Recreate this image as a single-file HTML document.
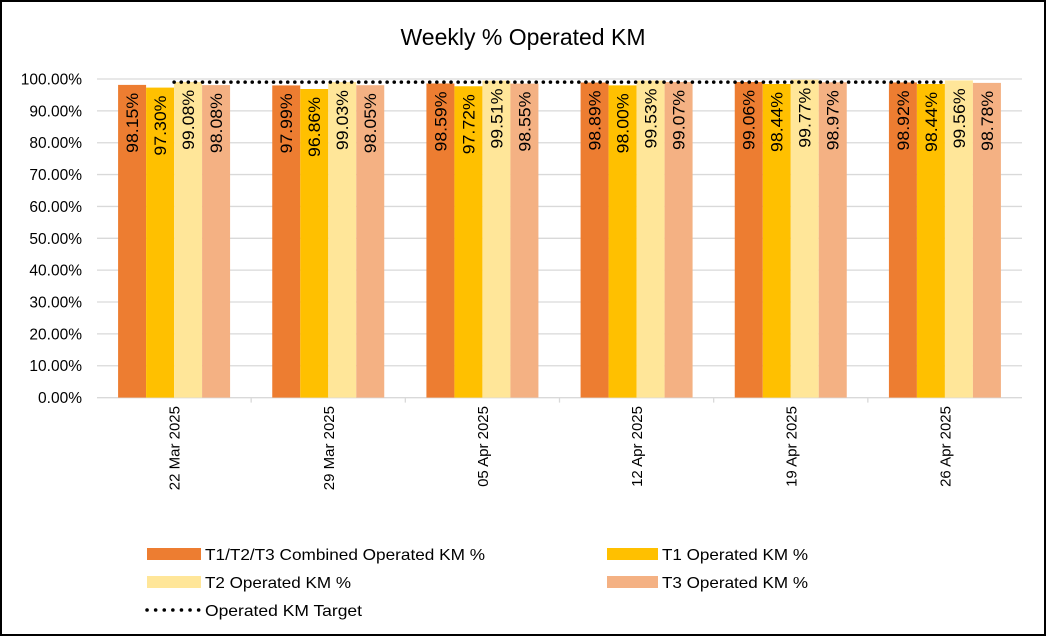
<!DOCTYPE html>
<html><head><meta charset="utf-8"><style>
body{margin:0;background:#fff;}
#c{position:relative;width:1046px;height:636px;box-sizing:border-box;border:2px solid #000;background:#fff;overflow:hidden;}
svg text{font-family:"Liberation Sans",sans-serif;}
</style></head><body>
<div id="c">
<svg id="s" width="1042" height="632" viewBox="2 2 1042 632" xmlns="http://www.w3.org/2000/svg">
<text x="523" y="45" text-anchor="middle" font-size="23" fill="#000">Weekly % Operated KM</text>
<g id="grid"></g>
<g id="yticks"></g>
<g id="bars"></g>
<g id="xlabels"></g>
<g id="target"></g>
<g>
 <rect x="147" y="548" width="54" height="12" fill="#ED7D31"/>
 <text x="205" y="560" font-size="16" textLength="280" lengthAdjust="spacingAndGlyphs">T1/T2/T3 Combined Operated KM %</text>
 <rect x="607" y="548" width="51" height="12" fill="#FFC000"/>
 <text x="662" y="560" font-size="16" textLength="146" lengthAdjust="spacingAndGlyphs">T1 Operated KM %</text>
 <rect x="147" y="576" width="54" height="12" fill="#FFE699"/>
 <text x="205" y="588" font-size="16" textLength="146" lengthAdjust="spacingAndGlyphs">T2 Operated KM %</text>
 <rect x="607" y="576" width="51" height="12" fill="#F4B183"/>
 <text x="662" y="588" font-size="16" textLength="146" lengthAdjust="spacingAndGlyphs">T3 Operated KM %</text>
 <line x1="147" y1="610" x2="200" y2="610" stroke="#000" stroke-width="3.5" stroke-dasharray="0.1 8.5" stroke-linecap="round"/>
 <text x="205" y="616" font-size="16" textLength="157" lengthAdjust="spacingAndGlyphs">Operated KM Target</text>
</g>
</svg>
</div>
<script>
const categories=["22 Mar 2025","29 Mar 2025","05 Apr 2025","12 Apr 2025","19 Apr 2025","26 Apr 2025"];
const combined=[98.15,97.99,98.59,98.89,99.06,98.92];
const t1=[97.30,96.86,97.72,98.00,98.44,98.44];
const t2=[99.08,99.03,99.51,99.53,99.77,99.56];
const t3=[98.08,98.05,98.55,99.07,98.97,98.78];
const target=[99,99,99,99,99,99];
const yTicks=[0,10,20,30,40,50,60,70,80,90,100];
const seriesColors=["#ED7D31","#FFC000","#FFE699","#F4B183"];
const seriesNames=["combined","t1","t2","t3"];
const NS="http://www.w3.org/2000/svg";
const x0=97,x1=1022,y0=397.6,y100=79;
const bandW=(x1-x0)/categories.length;
function yScale(v){return y0-(v/100)*(y0-y100);}
function xCenter(i){return x0+bandW*(i+0.5);}
function mk(t,a,p){const e=document.createElementNS(NS,t);for(const k in a)e.setAttribute(k,a[k]);p.appendChild(e);return e;}
const grid=document.getElementById('grid'),yt=document.getElementById('yticks');
yTicks.forEach(v=>{
 const l=mk('line',{x1:x0,x2:x1,y1:yScale(v),y2:yScale(v),stroke:'#D9D9D9','stroke-width':1.3},grid);
 
 
 const t=mk('text',{x:82,y:yScale(v)+5.5,'text-anchor':'end','font-size':15.5},yt);
 t.textContent=v.toFixed(2)+'%';
 
 
});
const bars=document.getElementById('bars'),xl=document.getElementById('xlabels');
const series=[combined,t1,t2,t3];const bw=28;
categories.forEach((c,i)=>{
 const cx=xCenter(i);
 series.forEach((s,j)=>{
  const bx=cx-2*bw+j*bw,by=yScale(s[i]);
  const r=mk('rect',{x:bx,y:by,width:bw,height:y0-by,fill:seriesColors[j]},bars);
  
  
  const tx=bx+bw/2+6,ty=by+8;
  const t=mk('text',{x:tx,y:ty,'text-anchor':'end','font-size':16.5,textLength:60,lengthAdjust:'spacingAndGlyphs',transform:`rotate(-90 ${tx} ${ty})`},bars);
  t.textContent=s[i].toFixed(2)+'%';
  
  
 });
 const lx=cx+5.5,ly=406;
 const t=mk('text',{x:lx,y:ly,'text-anchor':'end','font-size':15},xl);
 t.setAttribute('transform',`rotate(-90 ${lx} ${ly})`);
 t.textContent=c;
 
 
 if(i>0){const d=mk('line',{x1:x0+bandW*i,x2:x0+bandW*i,y1:y0,y2:y0+5,stroke:'#D9D9D9','stroke-width':1.3},grid);
 
 }
});
const ax=mk('line',{x1:x0,x2:x1,y1:y0,y2:y0,stroke:'#D9D9D9','stroke-width':1.3},grid);


const pts=target.map((v,i)=>xCenter(i)+','+yScale(v)).join(' ');
const pl=mk('polyline',{points:pts,fill:'none',stroke:'#000','stroke-width':3.5,'stroke-dasharray':'0.1 7','stroke-linecap':'round'},document.getElementById('target'));


</script>
</body></html>
